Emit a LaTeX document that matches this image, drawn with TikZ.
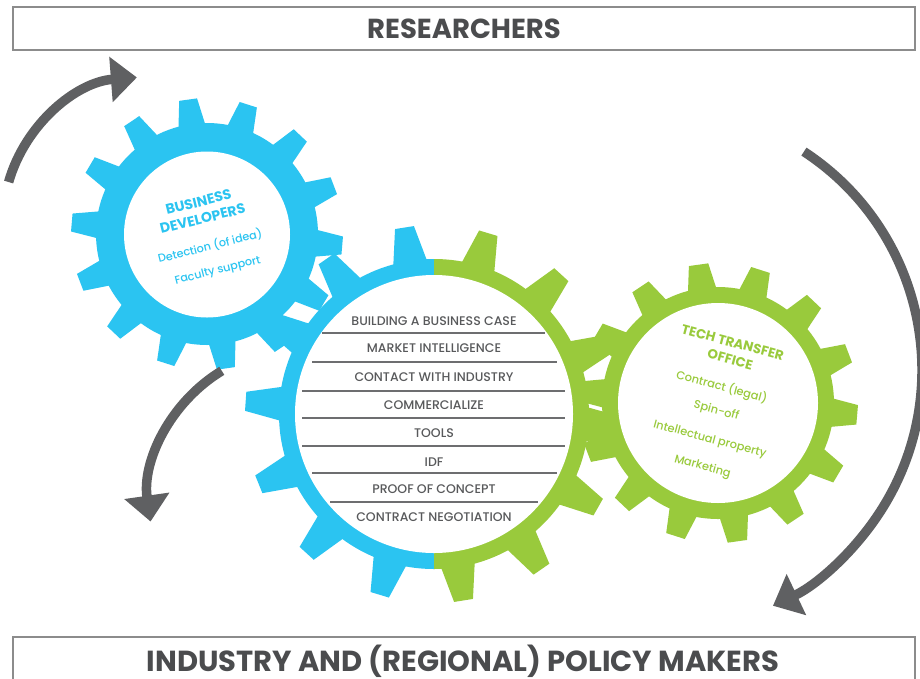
\documentclass[tikz,border=0pt]{standalone}
\usepackage{fontspec}
\usetikzlibrary{arrows.meta}
\newfontfamily\gf{Poppins}
\IfFontExistsTF{Poppins Medium}{\newfontfamily\gfm{Poppins Medium}}{\newfontfamily\gfm{Poppins}[FakeBold=0.6]}
\definecolor{gblue}{HTML}{2BC4F1}
\definecolor{ggreen}{HTML}{99CA3C}
\definecolor{agray}{HTML}{5F6062}
\definecolor{tgray}{HTML}{58595B}
\definecolor{ttgray}{HTML}{4B4C4E}
\definecolor{bgray}{HTML}{8C8C8C}
\definecolor{lgray}{HTML}{6D6E70}
\newcommand{\mygear}[8]{%
  \begin{scope}[shift={(#1,-#2)}]
    \fill[#8] (0,0) circle (#3);
    \foreach \k in {0,...,13}{
      \pgfmathsetmacro{\ga}{#5+\k*360/14}
      \fill[#8] (\ga-#6:#3-4) -- (\ga-#7:#4) -- (\ga+#7:#4) -- (\ga+#6:#3-4) -- cycle;
    }
  \end{scope}}
\tikzset{
  bigarrow/.style={draw=agray, line width=9.5pt, -{Triangle[length=26pt,width=44pt]}},
  framebox/.style={draw=bgray, line width=1.4pt},
  titletext/.style={font=\gf\bfseries\fontsize{27.5}{30}\selectfont, text=ttgray, inner sep=0pt},
  bigtitletext/.style={font=\gf\bfseries\fontsize{29}{32}\selectfont, text=ttgray, inner sep=0pt},
  listitem/.style={font=\gfm\fontsize{12.5}{14}\selectfont, text=tgray, inner sep=0pt},
  sepline/.style={draw=lgray, line width=1.3pt},
  bluehead/.style={font=\gf\bfseries\fontsize{14}{16}\selectfont, text=gblue, inner sep=0pt},
  bluetext/.style={font=\gfm\fontsize{11.2}{13}\selectfont, text=gblue, inner sep=0pt},
  greenhead/.style={font=\gf\bfseries\fontsize{13.3}{15}\selectfont, text=ggreen, inner sep=0pt},
  greentext/.style={font=\gfm\fontsize{11.4}{13}\selectfont, text=ggreen, inner sep=0pt},
}
\begin{document}
\begin{tikzpicture}[x=1pt,y=1pt]
\useasboundingbox[fill=white] (0,0) rectangle (920,-678);
% boxes
\draw[framebox] (13,-7) rectangle (915,-50);
\node[titletext] (res) at (464,-29) {RESEARCHERS};
\draw[framebox] (13,-637) rectangle (915,-700);
\node[bigtitletext] (ind) at (463,-661) {INDUSTRY AND (REGIONAL) POLICY MAKERS};
% gears
\mygear{207}{234}{111}{136}{98}{7.5}{3.8}{gblue}
\mygear{718}{403}{116}{140}{98}{7.6}{4.0}{ggreen}
\begin{scope}
  \clip (-10,10) rectangle (434,-700);
  \mygear{434}{414}{155}{189}{99}{6.7}{2.9}{gblue}
\end{scope}
\begin{scope}
  \clip (434,10) rectangle (930,-700);
  \mygear{434}{414}{155}{189}{99}{6.7}{2.9}{ggreen}
\end{scope}
\fill[white] (207,-234.5) circle (83);
\fill[white] (718,-403) circle (100);
\fill[white] (434,-414) circle (139);
% list
\node[listitem] (l1) at (434,-321) {BUILDING A BUSINESS CASE};
\node[listitem] (l2) at (434,-348) {MARKET INTELLIGENCE};
\node[listitem] (l3) at (434,-377) {CONTACT WITH INDUSTRY};
\node[listitem] (l4) at (434,-405) {COMMERCIALIZE};
\node[listitem] (l5) at (434,-433) {TOOLS};
\node[listitem] (l6) at (434,-462) {IDF};
\node[listitem] (l7) at (434,-489) {PROOF OF CONCEPT};
\node[listitem] (l8) at (434,-517) {CONTRACT NEGOTIATION};
\draw[sepline] (322,-333) -- (545,-333);
\draw[sepline] (312,-362) -- (557,-362);
\draw[sepline] (302,-391) -- (565,-391);
\draw[sepline] (302,-418) -- (565,-418);
\draw[sepline] (302,-446) -- (565,-446);
\draw[sepline] (312,-473) -- (557,-473);
\draw[sepline] (330,-502) -- (538,-502);
% blue gear text
\begin{scope}[shift={(207,-236)}, rotate=14, transform shape]
  \node[bluehead] (bd1) at (0,35) {BUSINESS};
  \node[bluehead] (bd2) at (0,18) {DEVELOPERS};
  \node[bluetext] (bd3) at (0.5,-10.4) {Detection (of idea)};
  \node[bluetext] (bd4) at (2,-36.6) {Faculty support};
\end{scope}
% green gear text
\begin{scope}[shift={(719,-405)}, rotate=-15, transform shape]
  \node[greenhead] (tt1) at (-3,64) {TECH TRANSFER};
  \node[greenhead] (tt2) at (-1,47) {OFFICE};
  \node[greentext] (tt3) at (-2,18) {Contract (legal)};
  \node[greentext] (tt4) at (-1,-6.6) {Spin-off};
  \node[greentext] (tt5) at (0,-36) {Intellectual property};
  \node[greentext] (tt6) at (0,-64) {Marketing};
\end{scope}
% arrows
\coordinate (a1) at ([shift={(148,-222)}]164:145);
\draw[bigarrow] (a1) arc[start angle=164, end angle=94.4, radius=145];
\coordinate (a2) at ([shift={(300,-500)}]121.2:151);
\draw[bigarrow] (a2) arc[start angle=121.2, end angle=188.2, radius=151];
\coordinate (a3) at ([shift={(661,-370)}]56.8:261);
\draw[bigarrow] (a3) arc[start angle=56.8, end angle=-64.6, radius=261];
\end{tikzpicture}
\end{document}
